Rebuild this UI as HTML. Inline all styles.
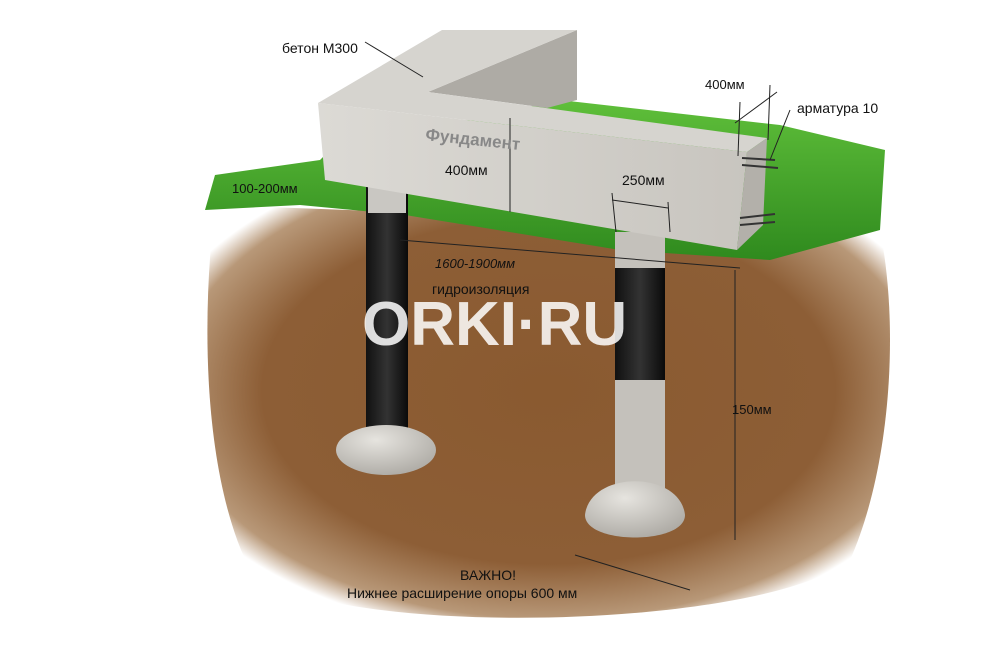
<!DOCTYPE html>
<html><head><meta charset="utf-8"><style>
body{margin:0;background:#fff;}
svg{display:block}
text{font-family:"Liberation Sans",sans-serif;}
</style></head><body>
<svg width="1000" height="647" viewBox="0 0 1000 647" xmlns="http://www.w3.org/2000/svg">
<defs>
<radialGradient id="soil" cx="0.5" cy="0.45" r="0.6">
<stop offset="0" stop-color="#8a5a30"/><stop offset="0.7" stop-color="#8d5e36"/><stop offset="0.92" stop-color="#b89878"/><stop offset="1" stop-color="#ffffff"/>
</radialGradient>
<linearGradient id="grass" x1="0" y1="0" x2="0" y2="1"><stop offset="0" stop-color="#5fbf3a"/><stop offset="1" stop-color="#2f8a1e"/></linearGradient>
<linearGradient id="conc" x1="0" y1="0" x2="1" y2="0"><stop offset="0" stop-color="#dcdad5"/><stop offset="1" stop-color="#c8c5bf"/></linearGradient>
<linearGradient id="pil" x1="0" y1="0" x2="1" y2="0"><stop offset="0" stop-color="#111"/><stop offset="0.5" stop-color="#333"/><stop offset="1" stop-color="#0a0a0a"/></linearGradient>
<radialGradient id="dome" cx="0.4" cy="0.3" r="0.8"><stop offset="0" stop-color="#e6e4df"/><stop offset="1" stop-color="#a9a6a0"/></radialGradient>
</defs>
<path d="M215,205 L880,230 C900,330 890,470 850,560 C760,630 330,640 250,570 C205,480 200,330 215,205 Z" fill="url(#soil)"/>
<path d="M205,210 L215,175 L320,160 L330,150 L560,100 L780,125 L885,150 L880,230 L770,260 L620,250 L405,215 L300,205 Z" fill="url(#grass)"/>
<rect x="366" y="185" width="42" height="255" fill="url(#pil)"/>
<rect x="368" y="185" width="38" height="28" fill="#c9c7c2"/>
<ellipse cx="386" cy="450" rx="50" ry="25" fill="url(#dome)"/>
<rect x="615" y="232" width="50" height="275" fill="#c4c1bb"/>
<rect x="615" y="268" width="50" height="112" fill="url(#pil)"/>
<path d="M585,515 C590,470 680,470 685,515 C685,545 585,545 585,515Z" fill="url(#dome)"/>
<polygon points="428,92 577,30 577,100 547,108" fill="#aeaba5"/>
<polygon points="318,103 442,30 577,30 428,92 767,138 747,152" fill="#d6d4cf"/>
<polygon points="318,103 747,152 737,250 325,180" fill="url(#conc)"/>
<polygon points="747,152 767,138 763,225 737,250" fill="#b3b0aa"/>
<g stroke="#333" stroke-width="2">
<line x1="742" y1="158" x2="775" y2="160"/><line x1="742" y1="165" x2="778" y2="168"/>
<line x1="740" y1="218" x2="775" y2="214"/><line x1="740" y1="225" x2="775" y2="222"/>
</g>
<g stroke="#222" stroke-width="1" fill="none">
<line x1="365" y1="42" x2="423" y2="77"/>
<line x1="510" y1="118" x2="510" y2="212"/>
<line x1="612" y1="200" x2="668" y2="208"/>
<line x1="612" y1="193" x2="616" y2="232"/><line x1="668" y1="202" x2="670" y2="232"/>
<line x1="735" y1="123" x2="777" y2="92"/>
<line x1="740" y1="102" x2="738" y2="156"/><line x1="770" y1="85" x2="768" y2="140"/>
<line x1="400" y1="240" x2="740" y2="268"/>
<line x1="735" y1="270" x2="735" y2="540"/>
<line x1="575" y1="555" x2="690" y2="590"/>
<line x1="790" y1="110" x2="770" y2="160"/>
</g>
<text x="282" y="53" font-size="14" fill="#111">бетон М300</text>
<text x="705" y="89" font-size="13" fill="#111">400мм</text>
<text x="797" y="113" font-size="14" fill="#111">арматура 10</text>
<text x="425" y="140" font-size="17" font-weight="bold" fill="#888" transform="rotate(6 425 140)">Фундамент</text>
<text x="445" y="175" font-size="14" fill="#111">400мм</text>
<text x="622" y="185" font-size="14" fill="#111">250мм</text>
<text x="232" y="193" font-size="13" fill="#111">100-200мм</text>
<text x="435" y="268" font-size="13" fill="#111" font-style="italic">1600-1900мм</text>
<text x="432" y="294" font-size="14" fill="#111">гидроизоляция</text>
<text x="362" y="345" font-size="62" font-weight="bold" fill="#fff" fill-opacity="0.85">ORKI·RU</text>
<text x="732" y="414" font-size="13" fill="#111">150мм</text>
<text x="460" y="580" font-size="14" fill="#111">ВАЖНО!</text>
<text x="347" y="598" font-size="14" fill="#111">Нижнее расширение опоры 600 мм</text>
</svg>
</body></html>
